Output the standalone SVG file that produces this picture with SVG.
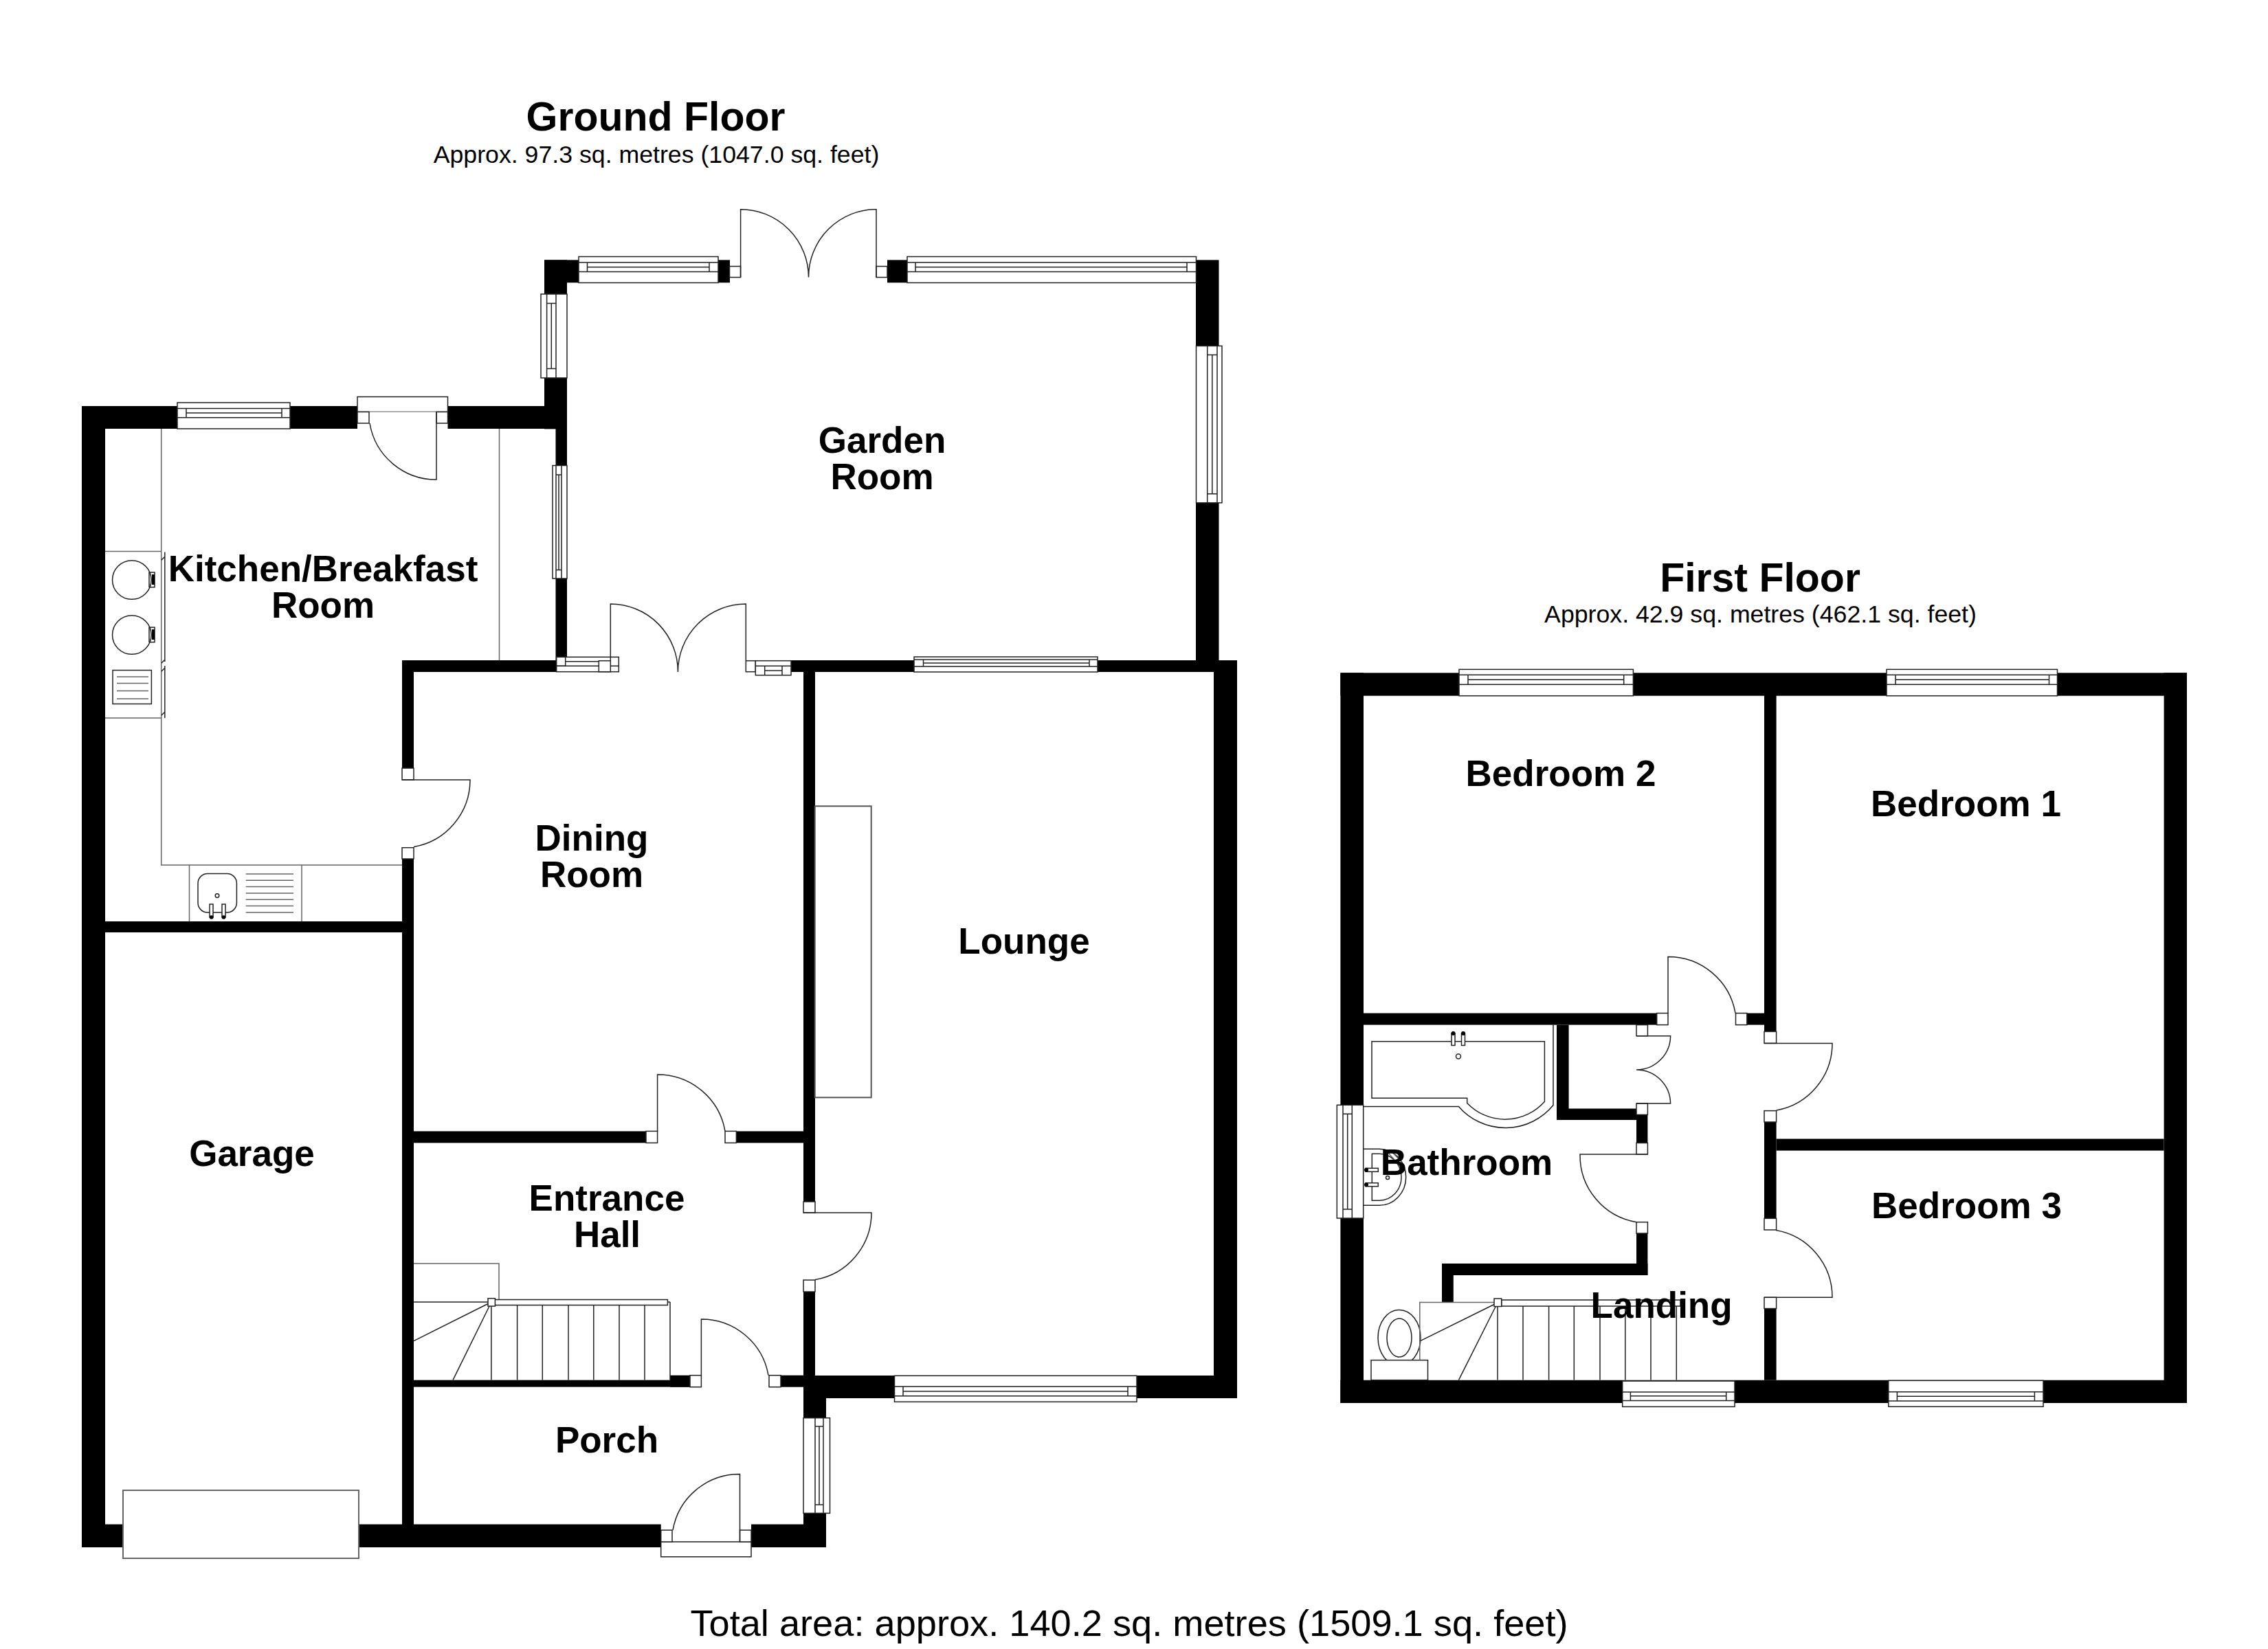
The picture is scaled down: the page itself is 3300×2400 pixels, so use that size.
<svg xmlns="http://www.w3.org/2000/svg" width="3300" height="2400" viewBox="0 0 3300 2400">
<style>
text{font-family:"Liberation Sans",Arial,sans-serif;fill:#000;text-anchor:middle}
.room{font-size:53px;font-weight:700}
.title{font-size:59px;font-weight:700}
.area{font-size:35.7px}
.total{font-size:54.2px}
.wall rect{fill:#000;stroke:none}
.l{fill:none;stroke:#222;stroke-width:1.5}
.g{fill:none;stroke:#666;stroke-width:2}
.f{fill:#fff;stroke:#222;stroke-width:1.5}
</style>
<rect width="3300" height="2400" fill="#fff"/>
<g id="ground-floor">
<g id="ground-walls" class="wall">
<rect x="119" y="591" width="34" height="1661"/>
<rect x="119" y="591" width="706" height="33"/>
<rect x="792" y="378.4" width="33" height="246"/>
<rect x="808.5" y="624" width="16.5" height="337"/>
<rect x="792" y="378.4" width="50" height="33"/>
<rect x="1045" y="378.4" width="17" height="33"/>
<rect x="1291" y="378.4" width="29" height="33"/>
<rect x="1740" y="378.4" width="33.5" height="583"/>
<rect x="1151" y="961" width="649" height="17"/>
<rect x="1766" y="961" width="34" height="1074"/>
<rect x="1169" y="2002" width="631" height="33"/>
<rect x="1169" y="961" width="17" height="788"/>
<rect x="1169" y="1880" width="17" height="122"/>
<rect x="585" y="961" width="225" height="17"/>
<rect x="585" y="961" width="17" height="157"/>
<rect x="585" y="1250" width="17" height="1002"/>
<rect x="153" y="1341" width="432" height="16"/>
<rect x="602" y="1646.4" width="338" height="17"/>
<rect x="1071" y="1646.4" width="98" height="17"/>
<rect x="602" y="2008.6" width="402" height="10"/>
<rect x="975" y="2001.7" width="29" height="17"/>
<rect x="1136" y="2001.7" width="33" height="17"/>
<rect x="1169" y="2002" width="33" height="62"/>
<rect x="1169" y="2202" width="33" height="50"/>
<rect x="119" y="2218.5" width="842.7" height="33.5"/>
<rect x="1093" y="2218.5" width="109" height="33.5"/>
</g>
<g id="garage-door"><rect class="g" x="179" y="2169" width="343" height="99" style="fill:#fff"/></g>
<g id="kitchen-units" class="kitchen">
<path class="g" style="stroke-width:1.5" d="M234.7 624V1259H585M726.5 624V961M153 802.5H235M153 1045H235M275.5 1259V1341M439 1259V1341"/>
<path class="l" d="M239.8 803.6V963M239.8 969V1045M235 815L240 810M235 965L240 960M235 977L240 972M235 1041L240 1036"/>
<circle class="l" cx="191.8" cy="844" r="28.3"/>
<circle class="l" cx="191.8" cy="924" r="28.3"/>
<rect class="l" x="217" y="833" width="8" height="21.6"/>
<rect class="l" x="217" y="913" width="8" height="21.6"/>
<rect x="221" y="836" width="4" height="15" fill="#000"/>
<rect x="221" y="916" width="4" height="15" fill="#000"/>
<rect class="l" x="164" y="975.5" width="56.4" height="49"/>
<path class="g" style="stroke-width:1.5" d="M170 985H216M170 994.4H216M170 1005.6H216M170 1017H216"/>
<rect class="l" x="288" y="1271.5" width="56.4" height="56.5" rx="14"/>
<circle class="l" cx="316" cy="1303.6" r="2.8"/>
<rect class="f" x="305" y="1316" width="5" height="19"/>
<rect class="f" x="323" y="1316" width="5" height="19"/>
<circle cx="307.7" cy="1335" r="2.8"/><circle cx="325.5" cy="1335" r="2.8"/>
<path class="g" style="stroke-width:1.5" d="M357.7 1272H427M357.7 1281.3H427M357.7 1290.6H427M357.7 1300H427M357.7 1309.3H427M357.7 1318.6H427M357.7 1328H427"/>
</g>
<g id="kitchen-window">
<rect class="f" x="258" y="586" width="164" height="38"/>
<path class="l" d="M258 594.4H422M258 607.7H422M271 594.4V607.7M410 594.4V607.7M271 601H410"/>
</g>
<g id="kitchen-door">
<rect class="f" x="520" y="577.5" width="131.5" height="22"/>
<rect fill="#fff" x="520" y="599.5" width="131.5" height="24.5"/>
<rect class="f" x="520" y="599.5" width="17" height="16.5"/>
<rect class="f" x="635" y="599.5" width="16.5" height="16.5"/>
<path class="l" d="M635 599.5V698A98 98 0 0 1 538 616"/>
</g>
<g id="garden-windows">
<rect class="f" x="842" y="373.5" width="203" height="38"/>
<path class="l" d="M842 382H1045M842 395.4H1045M854.5 382V395.4M1032 382V395.4M854.5 388.7H1032"/>
<rect class="f" x="1320" y="373.5" width="420.5" height="38"/>
<path class="l" d="M1320 382H1740.5M1320 395.4H1740.5M1332 382V395.4M1727 382V395.4M1332 388.7H1727"/>
<rect class="f" x="1740.5" y="503.5" width="37.5" height="228.3"/>
<path class="l" d="M1756.7 503.5V731.8M1771 503.5V731.8M1756.7 516.5H1771M1756.7 718.7H1771M1763.8 516.5V718.7"/>
<rect class="f" x="787" y="428" width="38" height="122"/>
<path class="l" d="M795.6 428V550M809 428V550M795.6 441.4H809M795.6 536.4H809M802.3 441.4V536.4"/>
<rect class="f" x="804" y="677.5" width="21" height="164.5"/>
<path class="l" d="M809 677.5V842M817 677.5V842M809 691H817M809 829.6H817M813 691V829.6"/>
<rect class="f" x="1330" y="956" width="267" height="22"/>
<path class="l" d="M1330 960H1597M1330 970H1597M1343.5 960V970M1585 960V970M1343.5 965H1585"/>
<rect class="f" x="1169" y="2063.7" width="38.5" height="138.7"/>
<path class="l" d="M1186 2063.7V2202.4M1198 2063.7V2202.4M1186 2076H1198M1186 2190H1198M1192 2076V2190"/>
<rect class="f" x="1301.5" y="2002.3" width="352.5" height="38"/>
<path class="l" d="M1301.5 2018H1654M1301.5 2031.7H1654M1314 2018V2031.7M1641 2018V2031.7M1314 2025H1641"/>
</g>
<g id="garden-doors">
<rect class="f" x="1061.5" y="387.6" width="16" height="16"/>
<rect class="f" x="1275" y="387.6" width="16" height="16"/>
<path class="l" d="M1077.6 403.6V304.7A98.9 98.9 0 0 1 1176.5 403.6M1275 403.6V304.7A98.5 98.5 0 0 0 1176.5 403.2"/>
</g>
<g id="dining-patio">
<rect class="f" x="809.7" y="956.3" width="90.6" height="21.4"/>
<rect class="f" x="809.7" y="956.3" width="13" height="13"/>
<path class="l" d="M822.7 962.7H871.3M809.7 969.3H871.3M888.3 969.3H900.3"/>
<rect class="f" x="871.3" y="961.7" width="17" height="16"/>
<rect class="f" x="1085.3" y="961.7" width="14" height="16"/>
<rect class="f" x="1099.3" y="961.7" width="51.7" height="21"/>
<path class="l" d="M1099.3 969.3H1151M1112.7 969.3V982.7M1138 969.3V982.7M1112.7 976H1138"/>
<path class="l" d="M888.3 961V879A98.4 98.4 0 0 1 986.4 978M1085.3 961V879A98.9 98.9 0 0 0 986.4 978"/>
</g>
<g id="interior-doors">
<rect class="f" x="585" y="1118" width="17" height="17"/>
<rect class="f" x="585" y="1233.7" width="17" height="16.3"/>
<path class="l" d="M585 1135H684A99 99 0 0 1 602 1232.5"/>
<rect class="f" x="940" y="1646.4" width="16.6" height="17"/>
<rect class="f" x="1055" y="1646.4" width="16.4" height="17"/>
<path class="l" d="M956.6 1646.4V1564A99.4 99.4 0 0 1 1055 1646.4"/>
<rect class="f" x="1169" y="1749" width="17" height="16"/>
<rect class="f" x="1169" y="1863" width="17" height="17"/>
<path class="l" d="M1169 1765H1268A99 99 0 0 1 1186 1862.5"/>
<rect class="f" x="1004" y="2001.7" width="16.4" height="17"/>
<rect class="f" x="1119" y="2001.7" width="17" height="17"/>
<path class="l" d="M1020.4 2001.7V1920A98.7 98.7 0 0 1 1118 2001.7"/>
<rect class="f" x="961.7" y="2244" width="131.3" height="21.8"/>
<rect class="f" x="961.7" y="2227" width="16.3" height="17"/>
<rect class="f" x="1076.5" y="2227" width="16.5" height="17"/>
<path class="l" d="M1076.5 2244V2145.5A98.5 98.5 0 0 0 979 2227"/>
</g>
<g id="ground-stairs">
<path class="g" style="stroke-width:1.5" d="M602 1839H726V1891"/>
<path class="l" d="M602 1895H715M715 1895L602 1951.7M715 1895L659 2008.6M714.8 1899V2008.6M752.6 1899V2008.6M789.3 1899V2008.6M827 1899V2008.6M863.8 1899V2008.6M901 1899V2008.6M938 1899V2008.6M975 1895V2008.6M971 1895H975"/>
<rect class="f" x="720" y="1891.5" width="251.4" height="8"/>
<rect class="f" x="710" y="1889.7" width="10.4" height="11.3"/>
</g>
<g id="fireplace"><rect class="l" style="stroke:#555;stroke-width:2" x="1185.7" y="1173.3" width="82" height="424"/></g>
<g id="ground-labels">
<text class="title" x="954" y="190">Ground Floor</text>
<text class="area" x="955" y="237">Approx. 97.3 sq. metres (1047.0 sq. feet)</text>
<text class="room" x="1283.5" y="659">Garden</text>
<text class="room" x="1283.5" y="712">Room</text>
<text class="room" x="470" y="846">Kitchen/Breakfast</text>
<text class="room" x="470" y="899">Room</text>
<text class="room" x="861" y="1238">Dining</text>
<text class="room" x="861" y="1291">Room</text>
<text class="room" x="1490" y="1388">Lounge</text>
<text class="room" x="366.5" y="1697">Garage</text>
<text class="room" x="883" y="1762">Entrance</text>
<text class="room" x="883.5" y="1815">Hall</text>
<text class="room" x="883" y="2114">Porch</text>
</g>
</g>
<g id="first-floor">
<g id="first-walls" class="wall">
<rect x="1950.4" y="979.3" width="1231.6" height="33.4"/>
<rect x="1950.4" y="979.3" width="33.6" height="1062.7"/>
<rect x="3148.6" y="979.3" width="33.4" height="1062.7"/>
<rect x="1950.4" y="2008.7" width="1231.6" height="33.3"/>
<rect x="2567" y="1012" width="17.6" height="489.4"/>
<rect x="2567" y="1633" width="17.6" height="140.3"/>
<rect x="2567" y="1904.5" width="17.6" height="104.2"/>
<rect x="2584.6" y="1657.5" width="564" height="17.1"/>
<rect x="1984" y="1474.6" width="426.7" height="17"/>
<rect x="2541.8" y="1474.6" width="25.2" height="17"/>
<rect x="2265" y="1491.6" width="17.6" height="138.4"/>
<rect x="2265" y="1613.5" width="116" height="16.5"/>
<rect x="2381" y="1613.5" width="16.4" height="50"/>
<rect x="2381" y="1795" width="16.4" height="61"/>
<rect x="2098" y="1839" width="299.4" height="17"/>
<rect x="2098" y="1839" width="16.8" height="56.6"/>
</g>
<g id="first-windows">
<rect class="f" x="2123" y="974.3" width="253.4" height="38.4"/>
<path class="l" d="M2123 982.3H2376.4M2123 996.3H2376.4M2136 982.3V996.3M2362.7 982.3V996.3M2136 989.3H2362.7"/>
<rect class="f" x="2745" y="974.3" width="248.5" height="38.4"/>
<path class="l" d="M2745 982.3H2993.5M2745 996.3H2993.5M2758 982.3V996.3M2981.5 982.3V996.3M2758 989.3H2981.5"/>
<rect class="f" x="2747.8" y="2009.3" width="225.2" height="38"/>
<path class="l" d="M2747.8 2025.7H2973M2747.8 2039H2973M2760.4 2025.7V2039M2960.4 2025.7V2039M2760.4 2032.3H2960.4"/>
<rect class="f" x="2360.7" y="2010" width="163.3" height="37.4"/>
<path class="l" d="M2360.7 2026H2524M2360.7 2038.5H2524M2372.4 2026V2038.5M2511.7 2026V2038.5M2372.4 2031.8H2511.7"/>
<rect class="f" x="1945.3" y="1608.3" width="38.4" height="164.7"/>
<path class="l" d="M1954 1608.3V1773M1967.3 1608.3V1773M1954 1621.3H1967.3M1954 1760H1967.3M1960.7 1621.3V1760"/>
</g>
<g id="first-doors">
<rect class="f" x="2410.7" y="1474.6" width="16.3" height="17"/>
<rect class="f" x="2525.5" y="1474.6" width="16.3" height="17"/>
<path class="l" d="M2427 1474.6V1392.5A99 99 0 0 1 2525 1474.6"/>
<rect class="f" x="2567" y="1501.4" width="17.6" height="17"/>
<rect class="f" x="2567" y="1616.6" width="17.6" height="16.4"/>
<path class="l" d="M2567 1518.4H2666A99 99 0 0 1 2584.6 1616"/>
<rect class="f" x="2567" y="1773.3" width="17.6" height="16.7"/>
<rect class="f" x="2567" y="1888.3" width="17.6" height="16.2"/>
<path class="l" d="M2584 1790.5A99 99 0 0 1 2666 1888.3H2567"/>
<rect class="f" x="2381" y="1491.6" width="16.4" height="16.1"/>
<rect class="f" x="2381" y="1606" width="16.4" height="16.4"/>
<path class="l" d="M2381 1507.7H2430.6A49.6 49.6 0 0 1 2381 1557A49.6 49.6 0 0 1 2430.6 1606H2381"/>
<rect class="f" x="2381" y="1663.5" width="16.4" height="16.5"/>
<rect class="f" x="2381" y="1778.7" width="16.4" height="16.3"/>
<path class="l" d="M2397.4 1680H2299A98.4 98.4 0 0 0 2381 1778.7"/>
</g>
<g id="bath">
<path class="l" d="M2260 1491.6V1608.6A90 90 0 0 1 2122.4 1610.4H1984"/>
<path class="l" d="M1996 1515.7H2247.4V1603.2A76.4 76.4 0 0 1 2134.7 1605.4V1598.3H1996Z"/>
<rect class="f" x="2112" y="1504" width="5" height="17.5"/>
<rect class="f" x="2126.5" y="1504" width="5" height="17.5"/>
<circle cx="2114.5" cy="1504" r="3"/><circle cx="2129" cy="1504" r="3"/>
<circle class="l" cx="2122" cy="1537.6" r="3.5"/>
</g>
<g id="basin">
<path class="l" d="M1984 1672.3H2007A38.7 41 0 0 1 2007 1754.3H1984"/>
<path class="l" d="M1996.3 1679.3H2007A32 34 0 0 1 2007 1747.3H1996.3Z"/>
<rect class="f" x="1987" y="1700.3" width="18.3" height="5"/>
<rect class="f" x="1987" y="1721.7" width="18.3" height="5"/>
<circle cx="1988" cy="1702.8" r="3"/><circle cx="1988" cy="1724.2" r="3"/>
<circle class="l" cx="2019" cy="1714" r="2.5"/>
<path class="g" style="stroke-width:1.5" d="M2020 1678L2037 1697M2026 1677L2040 1692"/>
</g>
<g id="toilet">
<ellipse class="f" cx="2036" cy="1947" rx="31" ry="40.6"/>
<ellipse class="l" cx="2036" cy="1947" rx="18" ry="28"/>
<rect class="f" x="1995" y="1979.6" width="82.5" height="29"/>
</g>
<g id="first-stairs">
<path class="g" style="stroke-width:1.5" d="M2065.8 1979.6V1895.6H2174"/>
<path class="l" d="M2179 1896L2067 1951.4M2179 1896L2122.4 2008.6M2179 1900V2008.6M2216 1900V2008.6M2253.6 1900V2008.6M2290.3 1900V2008.6M2328 1900V2008.6M2364.8 1900V2008.6M2402 1900V2008.6M2439.3 1900V2008.6"/>
<rect class="f" x="2184.7" y="1892" width="260.3" height="9"/>
<rect class="f" x="2174" y="1890" width="10.7" height="11.5"/>
</g>
<g id="first-labels">
<text class="title" x="2561" y="861">First Floor</text>
<text class="area" x="2561.5" y="906">Approx. 42.9 sq. metres (462.1 sq. feet)</text>
<text class="room" x="2271" y="1144">Bedroom 2</text>
<text class="room" x="2860.5" y="1188">Bedroom 1</text>
<text class="room" x="2861.5" y="1773">Bedroom 3</text>
<text class="room" x="2134" y="1710">Bathroom</text>
<text class="room" x="2417.6" y="1918">Landing</text>
</g>
</g>
<text class="total" x="1643" y="2381">Total area: approx. 140.2 sq. metres (1509.1 sq. feet)</text>
</svg>
